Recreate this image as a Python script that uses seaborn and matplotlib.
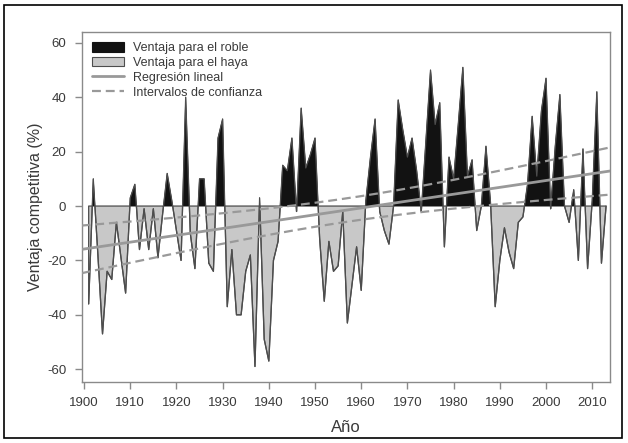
import numpy as np
import pandas as pd
import matplotlib
matplotlib.use("Agg")
import matplotlib.pyplot as plt
import seaborn as sns
from matplotlib.patches import Patch, Rectangle
from matplotlib.lines import Line2D

# Annual competitive advantage (%): positive favours oak, negative favours beech
years = list(range(1901, 2014))
advantage = [
    -36, 10, -18, -47, -24, -27, -6, -19, -32, 3,      # 1901-1910
    8, -16, -1, -16, -1, -19, -3, 12, 2, -9,           # 1911-1920
    -20, 40, -10, -23, 10, 10, -21, -24, 25, 32,       # 1921-1930
    -37, -16, -40, -40, -24, -18, -59, 3, -49, -57,    # 1931-1940
    -20, -13, 15, 13, 25, -2, 36, 14, 19, 25,          # 1941-1950
    -12, -35, -13, -24, -22, -2, -43, -29, -15, -31,   # 1951-1960
    2, 18, 32, -2, -9, -14, 0, 39, 28, 18,             # 1961-1970
    25, 13, -2, 24, 50, 30, 38, -15, 18, 10,           # 1971-1980
    30, 51, 11, 17, -9, 0, 22, 1, -37, -20,            # 1981-1990
    -8, -17, -23, -6, -4, 8, 33, 11, 35, 47,           # 1991-2000
    -1, 22, 41, 0, -6, 6, -20, 21, -23, 2,             # 2001-2010
    42, -21, 0,                                        # 2011-2013
]
x_ticks = list(range(1900, 2011, 10))
y_ticks = list(range(-60, 61, 20))
legend_labels = ["Ventaja para el roble", "Ventaja para el haya",
                 "Regresión lineal", "Intervalos de confianza"]

sns.set_style("ticks")
plt.rcParams["font.family"] = ["Liberation Sans", "DejaVu Sans"]
plt.rcParams["axes.unicode_minus"] = False

OAK = "#121212"
BEECH = "#c8c8c8"
OUTLINE = "#4d4d4d"
REG = "#999999"
TEXT = "#3a3a3a"
SPINE = "#8a8a8a"

df = pd.DataFrame({"Año": years, "Ventaja": advantage})
x = df["Año"].to_numpy(float)
y = df["Ventaja"].to_numpy(float)

W, H = 628, 443
fig = plt.figure(figsize=(W / 100, H / 100), dpi=100)
ax = fig.add_axes([81.5 / W, 1 - 382 / H, (610 - 81.5) / W, (382 - 32) / H])

xlim = (1899.45, 2013.85)
ylim = (-64.7, 64.0)

# filled areas on either side of zero
ax.fill_between(x, y, 0, where=y >= 0, interpolate=True,
                facecolor=OAK, edgecolor=OAK, linewidth=0.6, zorder=2)
ax.fill_between(x, y, 0, where=y <= 0, interpolate=True,
                facecolor=BEECH, edgecolor=OUTLINE, linewidth=0.9, zorder=2)
sns.lineplot(data=df, x="Año", y="Ventaja", ax=ax, color=OUTLINE,
             linewidth=0.9, zorder=3)

# ordinary least squares trend with 95 % confidence band of the mean
n = len(x)
slope, intercept = np.polyfit(x, y, 1)
resid = y - (intercept + slope * x)
s = np.sqrt(np.sum(resid ** 2) / (n - 2))
sxx = np.sum((x - x.mean()) ** 2)
xx = np.linspace(xlim[0], xlim[1], 200)
fit = intercept + slope * xx
half = 1.98 * s * np.sqrt(1 / n + (xx - x.mean()) ** 2 / sxx)
trend = pd.DataFrame({"Año": xx, "fit": fit, "lo": fit - half, "hi": fit + half})

sns.lineplot(data=trend, x="Año", y="fit", ax=ax, color=REG, linewidth=2.0, zorder=4)
for col in ("lo", "hi"):
    sns.lineplot(data=trend, x="Año", y=col, ax=ax, color=REG, linewidth=1.6,
                 dashes=False, zorder=4).lines[-1].set_dashes((4, 2.2))

ax.set_xlim(*xlim)
ax.set_ylim(*ylim)
ax.set_xticks(x_ticks)
ax.set_yticks(y_ticks)
ax.set_xlabel("Año", fontsize=12, color=TEXT, labelpad=8)
ax.set_ylabel("Ventaja competitiva (%)", fontsize=11.5, color=TEXT, labelpad=3)
ax.tick_params(axis="both", direction="out", length=5, width=1, color=SPINE,
               labelsize=9.5, labelcolor=TEXT, pad=6)
for sp in ax.spines.values():
    sp.set_visible(True)
    sp.set_color(SPINE)
    sp.set_linewidth(1.0)

handles = [
    Patch(facecolor=OAK, edgecolor=OAK, linewidth=0.8),
    Patch(facecolor=BEECH, edgecolor=OUTLINE, linewidth=0.8),
    Line2D([], [], color=REG, linewidth=2.0),
    Line2D([], [], color=REG, linewidth=1.6, dashes=(4, 2.2)),
]
ax.legend(handles, legend_labels, loc="upper left", bbox_to_anchor=(0.0, 1.0),
          frameon=False, fontsize=9, handlelength=2.6, handleheight=0.8,
          handletextpad=0.7, labelspacing=0.22, borderaxespad=0.4,
          labelcolor=TEXT)

# thin frame around the whole figure
fig.patches.append(Rectangle((4 / W, 5 / H), (622 - 4) / W, (438 - 5) / H,
                             transform=fig.transFigure, fill=False,
                             edgecolor="black", linewidth=1.2))

fig.savefig("out.png", dpi=100)
